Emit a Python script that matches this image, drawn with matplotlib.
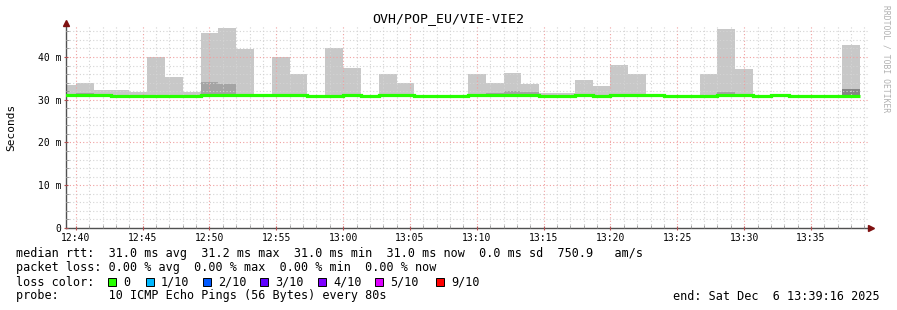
import numpy as np
import pandas as pd
import matplotlib
matplotlib.use("Agg")
import matplotlib.pyplot as plt
import matplotlib.dates as mdates
from matplotlib.patches import Rectangle
from matplotlib.ticker import MultipleLocator, FixedLocator

# rrd steps of 80 s, the first one is clipped by the left edge
bin_start = pd.date_range("2025-12-06 12:38:40", periods=46, freq="80s")
t_start = pd.Timestamp("2025-12-06 12:39:16")
t_end = pd.Timestamp("2025-12-06 13:39:16")

# median rtt per step (ms)
median_ms = [31.1, 31.1, 31.1, 30.9, 30.9, 30.9, 30.9, 30.9, 31.1, 31.1,
             31.1, 31.1, 31.1, 31.1, 30.9, 30.9, 31.1, 30.9, 31.1, 31.1,
             30.9, 30.9, 30.9, 31.1, 31.1, 31.1, 31.1, 30.9, 30.9, 31.1,
             30.9, 31.1, 31.1, 31.1, 30.9, 30.9, 30.9, 31.1, 31.1, 30.9,
             31.1, 30.9, 30.9, 30.9, 30.9]
# top of the smoke (slowest ping)
smoke_top = [33.5, 34.0, 32.3, 32.3, 31.9, 40.0, 35.4, 31.9, 45.6, 46.7,
             41.9, 31.0, 40.0, 36.0, 31.0, 42.1, 37.4, 31.0, 36.0, 34.0,
             31.0, 31.0, 31.0, 36.0, 34.0, 36.3, 33.6, 31.5, 31.5, 34.7,
             33.3, 38.2, 36.1, 31.0, 31.0, 31.0, 36.1, 46.6, 37.2, 31.0,
             31.0, 31.0, 31.0, 31.0, 42.8]
# denser part of the smoke
smoke_mid = [31.0, 31.5, 31.0, 31.0, 31.0, 31.0, 31.0, 31.0, 34.2, 33.6,
             31.0, 31.0, 31.0, 31.0, 31.0, 31.0, 31.0, 31.0, 31.0, 31.0,
             31.0, 31.0, 31.0, 31.0, 31.5, 32.0, 31.7, 31.0, 31.0, 31.0,
             31.0, 31.0, 31.0, 31.0, 31.0, 31.0, 31.0, 31.7, 31.0, 31.0,
             31.0, 31.0, 31.0, 31.0, 31.0]
smoke_deep = [31.0] * 44 + [32.5]

loss_labels = ["0", "1/10", "2/10", "3/10", "4/10", "5/10", "9/10"]
loss_colors = ["#26ff00", "#00b8ff", "#0059ff", "#5e00ff", "#7e00ff", "#dd00ff", "#ff0000"]

W, H = 897, 310
fig = plt.figure(figsize=(W / 100, H / 100), dpi=100)
ax = fig.add_axes([66 / W, 1 - 228 / H, 802 / W, 202 / H])

edges = mdates.date2num(bin_start)
base = np.array(median_ms)
ax.stairs(smoke_top, edges, baseline=base, fill=True, color="#c8c8c8", lw=0, zorder=1)
ax.stairs(smoke_mid, edges, baseline=base, fill=True, color="#a4a4a4", lw=0, zorder=1.1)
ax.stairs(smoke_deep, edges, baseline=base, fill=True, color="#858585", lw=0, zorder=1.2)
ax.stairs(median_ms, edges, baseline=None, color="#26ff00", lw=2.3, zorder=3)

ax.set_xlim(mdates.date2num(t_start), mdates.date2num(t_end))
ax.set_ylim(0, 47.25)

ax.xaxis.set_major_locator(mdates.MinuteLocator(byminute=range(0, 60, 5)))
ax.xaxis.set_minor_locator(mdates.MinuteLocator())
ax.xaxis.set_major_formatter(mdates.DateFormatter("%H:%M"))
ax.yaxis.set_major_locator(FixedLocator([0, 10, 20, 30, 40]))
ax.yaxis.set_minor_locator(MultipleLocator(2))
ax.set_yticklabels(["0", "10 m", "20 m", "30 m", "40 m"])

ax.set_axisbelow(False)
ax.grid(which="minor", color="#d4d4d4", ls=(0, (1, 2)), lw=0.8)
ax.grid(which="major", color="#f0a0a0", ls=(0, (1, 2)), lw=0.8)

for s in ["top", "right"]:
    ax.spines[s].set_visible(False)
for s in ["left", "bottom"]:
    ax.spines[s].set_color("#505050")
    ax.spines[s].set_linewidth(1.0)
ax.spines["bottom"].set_bounds(mdates.date2num(t_start), mdates.date2num(t_end) + 0.00003)

mono = "DejaVu Sans Mono"
ax.tick_params(which="major", length=3, direction="inout", color="#b05050",
               labelsize=7, pad=2)
ax.tick_params(which="minor", length=2, direction="in", color="#909090")
for lab in ax.get_xticklabels() + ax.get_yticklabels():
    lab.set_fontfamily(mono)

# axis arrows
ax.plot([1.004], [0], marker=">", ms=4, color="#7f1010", transform=ax.transAxes,
        clip_on=False, zorder=5)
ax.plot([0], [1.015], marker="^", ms=4, color="#7f1010", transform=ax.transAxes,
        clip_on=False, zorder=5)


def px(x, y):
    return x / W, 1 - y / H


fig.text(*px(448, 19), "OVH/POP_EU/VIE-VIE2", ha="center", va="center",
         family=mono, fontsize=9.5)
fig.text(*px(11, 127), "Seconds", rotation=90, ha="center", va="center",
         family=mono, fontsize=8)
fig.text(*px(886, 59), "RRDTOOL / TOBI OETIKER", rotation=270, ha="center",
         va="center", family=mono, fontsize=5.8, color="#b0b0b0")

fs = 8.5
lines = [
    (254, "median rtt:  31.0 ms avg  31.2 ms max  31.0 ms min  31.0 ms now  0.0 ms sd  750.9   am/s"),
    (268, "packet loss: 0.00 % avg  0.00 % max  0.00 % min  0.00 % now"),
    (282, "loss color:"),
    (296, "probe:       10 ICMP Echo Pings (56 Bytes) every 80s"),
]
for y, txt in lines:
    fig.text(*px(16, y), txt, ha="left", va="center", family=mono, fontsize=fs)

sq_x = [108, 146, 203, 260, 318, 375, 436]
for x0, lab, col in zip(sq_x, loss_labels, loss_colors):
    fig.add_artist(Rectangle(px(x0, 286), 8 / W, 8 / H, transform=fig.transFigure,
                             facecolor=col, edgecolor="black", lw=0.7))
    fig.text(*px(x0 + 15, 282), lab, ha="left", va="center", family=mono, fontsize=fs)

fig.text(*px(880, 296), "end: Sat Dec  6 13:39:16 2025", ha="right", va="center",
         family=mono, fontsize=fs)

fig.savefig("out.png", dpi=100)
